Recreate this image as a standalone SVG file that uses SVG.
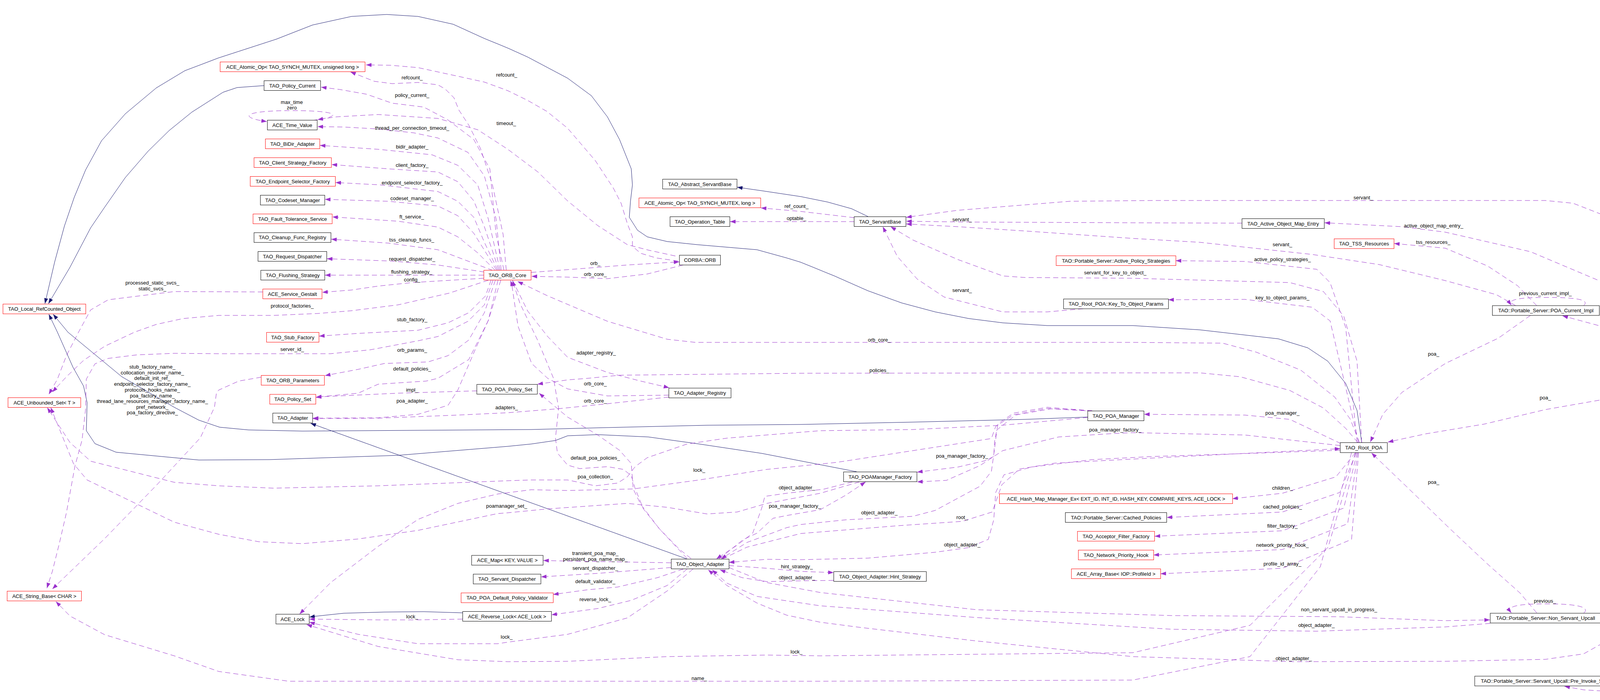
<svg xmlns="http://www.w3.org/2000/svg" width="4555" height="1791" viewBox="0 0 4555 1791">
<style>
text{font-family:"Liberation Sans",Arial,sans-serif;font-size:13px;fill:#000}
.nt{text-anchor:middle}
.lb{text-anchor:middle}
rect{fill:#fff;stroke:#000;stroke-width:1}
rect.r{stroke:#ff0000}
rect.g{fill:#bfbfbf}
.e{fill:none;stroke:#9a32cd;stroke-width:1;stroke-dasharray:13 8;marker-end:url(#ap)}
.i{fill:none;stroke:#191970;stroke-width:1;marker-end:url(#ab)}
</style>
<defs>
<marker id="ap" markerUnits="userSpaceOnUse" markerWidth="14" markerHeight="10" refX="14" refY="5" orient="auto" viewBox="0 0 14 10" preserveAspectRatio="none"><path d="M0,0 L14,5 L0,10 z" fill="#9a32cd"/></marker>
<marker id="ab" markerUnits="userSpaceOnUse" markerWidth="14" markerHeight="10" refX="14" refY="5" orient="auto" viewBox="0 0 14 10" preserveAspectRatio="none"><path d="M0,0 L14,5 L0,10 z" fill="#191970"/></marker>
</defs>
<rect x="0" y="0" width="4555" height="1791" style="fill:#fff;stroke:none"/>
<g id="edges">
<path class="i" d="M3486,1132 L3474,1050 L3445,981 L3399,924 L3348,890 L3273,867 L3072,844 L2900,833 L2681,833 L2567,826 L2480,815 L2394,798 L2308,775 L2222,744 L2136,706 L2050,671 L2014,660 L1938,639 L1785,626 L1708,618 L1657,606 L1632,589 L1611,556 L1614,515 L1619,473 L1616,432 L1606,407 L1586,357 L1555,299 L1514,245 L1453,200 L1351,146 L1300,123 L1239,98 L1160,62 L1070,42 L990,37 L900,42 L800,64 L708,100 L560,148 L473,181 L400,225 L321,291 L260,360 L219,435 L190,505 L165,578 L140,670 L115,777"/>
<path class="i" d="M676,219 L607,224 L571,236 L491,287 L433,334 L379,387 L321,454 L268,530 L232,583 L179,684 L124,777"/>
<path class="i" d="M2193,1207 L2100,1189 L1950,1160 L1790,1136 L1660,1118 L1530,1112 L1453,1115 L1422,1127 L1360,1136 L1300,1142 L1019,1165 L690,1176 L509,1177 L297,1157 L243,1135 L221,1102 L223,1030 L214,988 L187,940 L147,850 L125,804"/>
<path class="i" d="M2785,1067 L2624,1073 L2337,1080 L2050,1086 L1810,1088 L1555,1094 L1360,1099 L774,1103 L636,1100 L562,1093 L509,1075 L446,1042 L312,964 L174,850 L136,804"/>
<path class="i" d="M2222,554 L2180,534 L2119,517 L2050,503 L1950,488 L1887,479"/>
<path class="i" d="M1758,1430 L795,1083"/>
<path class="i" d="M1184,1568 L1085,1565 L983,1566 L880,1569 L805,1577 L792,1579"/>
<path class="e" d="M1296,691 L1288,600 L1260,470 L1230,380 L1200,320 L1175,282 L1162,250 L1140,228 L1121,217 L1070,211 L1004,214 L958,208 L920,193 L897,184"/>
<path class="e" d="M1736,668 L1680,660 L1640,648 L1619,630 L1619,606 L1606,572 L1590,520 L1570,481 L1524,411 L1453,328 L1400,285 L1351,257 L1300,232 L1240,210 L1172,195 L1070,173 L1000,167 L937,166"/>
<path class="e" d="M1729,655 L1660,640 L1606,626 L1530,577 L1453,514 L1377,440 L1300,382 L1223,332 L1121,303 L968,293 L861,299 L813,306"/>
<path class="e" d="M800,308 C880,298 872,283 747,283 C618,283 612,301 683,311"/>
<path class="e" d="M1290,691 L1270,600 L1254,432 L1213,357 L1147,307 L1085,274 L1004,264 L938,241 L870,229 L822,223"/>
<path class="e" d="M1283,691 L1270,560 L1240,450 L1198,390 L1121,353 L1060,340 L968,330 L880,325 L813,324"/>
<path class="e" d="M1280,691 L1250,560 L1223,473 L1172,423 L1106,396 L968,382 L819,372"/>
<path class="e" d="M1277,691 L1240,580 L1213,514 L1172,465 L1121,440 L994,432 L849,421"/>
<path class="e" d="M1274,691 L1240,620 L1213,556 L1172,515 L1121,490 L973,473 L859,467"/>
<path class="e" d="M1271,691 L1240,640 L1213,597 L1172,552 L1121,527 L994,515 L832,510"/>
<path class="e" d="M1268,692 L1223,647 L1172,606 L1121,581 L1019,566 L851,555"/>
<path class="e" d="M1262,692 L1198,668 L1121,639 L994,622 L848,612"/>
<path class="e" d="M1240,696 L1121,678 L1004,668 L837,662"/>
<path class="e" d="M1238,704 L832,704"/>
<path class="e" d="M1238,712 L1121,719 L1055,723 L968,732 L900,742 L825,748"/>
<path class="e" d="M1250,717 L1150,750 L1019,780 L900,795 L815,802 L700,807 L560,807 L469,815 L400,830 L344,850 L268,886 L214,922 L170,964 L134,1003"/>
<path class="e" d="M1257,717 L1243,757 L1200,800 L1147,826 L1070,845 L917,853 L817,860"/>
<path class="e" d="M1262,717 L1240,780 L1198,822 L1121,861 L1070,872 L948,895 L846,905 L700,905 L560,905 L446,904 L350,908 L277,917 L243,931 L221,970 L219,1048 L210,1126 L192,1192 L170,1312 L152,1390 L134,1462 L120,1505"/>
<path class="e" d="M1268,717 L1240,800 L1200,870 L1147,910 L1096,926 L984,930 L917,945 L832,961"/>
<path class="e" d="M1275,717 L1250,820 L1200,920 L1121,968 L1091,975 L968,983 L917,1006 L809,1016"/>
<path class="e" d="M1282,717 L1250,820 L1218,891 L1172,998 L1147,1037 L1070,1060 L968,1069 L801,1070"/>
<path class="e" d="M1221,1000 L1019,1006 L825,1015 L809,1017"/>
<path class="e" d="M1712,1016 L1555,1033 L1427,1046 L1300,1056 L1172,1062 L968,1070 L801,1071"/>
<path class="e" d="M1712,1011 L1555,1013 L1453,995 L1402,968 L1361,930 L1326,834 L1310,727 L1307,718"/>
<path class="e" d="M1312,717 L1351,796 L1402,861 L1453,914 L1555,953 L1640,975 L1713,992"/>
<path class="e" d="M1360,697 L1504,686 L1606,678 L1739,670"/>
<path class="e" d="M1749,678 L1657,701 L1555,713 L1453,709 L1361,707"/>
<path class="e" d="M673,747 L446,746 L277,767 L232,793 L201,850 L170,910 L147,970 L125,1009"/>
<path class="e" d="M669,965 L611,975 L560,998 L554,1006 L549,1042 L513,1120 L402,1240 L268,1378 L134,1507"/>
<path class="e" d="M2187,557 L2119,549 L2050,541 L1948,532"/>
<path class="e" d="M2187,567 L1869,567"/>
<path class="e" d="M3480,1132 L3457,1073 L3417,1016 L3330,947 L3216,901 L3130,878 L2900,876 L2050,876 L1780,876 L1708,868 L1555,822 L1402,757 L1325,720"/>
<path class="e" d="M3476,1132 L3445,1096 L3388,1044 L3302,999 L3175,964 L3072,954 L2900,954 L2050,955 L1586,960 L1504,968 L1453,972 L1376,983"/>
<path class="e" d="M3486,1132 L3474,924 L3440,809 L3388,746 L3302,723 L2900,712 L2624,710 L2567,706 L2452,664 L2337,614 L2280,580"/>
<path class="e" d="M2773,790 L2681,798 L2567,798 L2417,760 L2348,714 L2297,656 L2260,580"/>
<path class="e" d="M4409,956 L4382,874 L4327,764 L4273,690 L4191,616 L4109,552 L4027,520 L3956,513 L3700,513 L2950,513 L2739,515 L2452,538 L2320,556"/>
<path class="e" d="M3180,571 L2900,570 L2463,568 L2320,566"/>
<path class="e" d="M3880,782 L3831,754 L3700,718 L3531,677 L3359,651 L3072,620 L2900,610 L2624,591 L2452,580 L2320,573"/>
<path class="e" d="M4403,956 L4300,846 L4136,736 L3918,644 L3700,594 L3589,580 L3391,570"/>
<path class="e" d="M3934,782 L3885,731 L3809,681 L3700,635 L3569,623"/>
<path class="e" d="M4054,782 C4072,766 4030,761 3960,761 C3890,761 3858,766 3869,781"/>
<path class="e" d="M3918,807 L3836,865 L3700,930 L3589,1004 L3540,1060 L3508,1131"/>
<path class="e" d="M4380,957 L4218,873 L4100,835 L4000,808"/>
<path class="e" d="M4343,983 L4191,1007 L3956,1048 L3800,1085 L3650,1110 L3553,1131"/>
<path class="e" d="M4422,983 L4414,1085 L4403,1223 L4387,1361 L4354,1545 L4316,1655 L4273,1719 L4218,1756 L4136,1770 L4054,1765 L4005,1756"/>
<path class="e" d="M4420,983 L4409,1067 L4382,1177 L4354,1269 L4300,1407 L4245,1499 L4191,1563 L4136,1627 L4054,1673 L3956,1687 L3700,1692 L3312,1693 L2900,1680 L2500,1640 L2200,1605 L2100,1592 L2014,1574 L1938,1543 L1861,1498 L1813,1458"/>
<path class="e" d="M4054,1569 C4074,1552 4030,1545 3960,1545 C3880,1545 3856,1552 3869,1568"/>
<path class="e" d="M3934,1568 L3891,1517 L3809,1444 L3711,1352 L3606,1250 L3511,1159"/>
<path class="e" d="M1866,1452 L1960,1490 L2100,1516 L2500,1560 L3000,1575 L3428,1578 L3700,1588 L3814,1586"/>
<path class="e" d="M3815,1595 L3700,1604 L3370,1615 L3000,1610 L2500,1580 L2100,1550 L1938,1526 L1861,1492 L1823,1458"/>
<path class="e" d="M1866,1447 L1963,1454 L2050,1462 L2134,1465"/>
<path class="e" d="M2134,1485 L2050,1486 L1963,1488 L1900,1478 L1843,1458"/>
<path class="e" d="M1718,1440 L1606,1438 L1427,1435 L1391,1434"/>
<path class="e" d="M1718,1452 L1657,1457 L1530,1467 L1385,1476"/>
<path class="e" d="M1749,1456 L1683,1478 L1581,1502 L1504,1509 L1416,1521"/>
<path class="e" d="M1759,1456 L1708,1498 L1616,1536 L1530,1557 L1412,1573"/>
<path class="e" d="M1774,1456 L1708,1512 L1606,1581 L1453,1623 L1300,1643 L1274,1647 L1070,1647 L917,1623 L792,1592"/>
<path class="e" d="M1184,1584 L1070,1586 L968,1586 L792,1584"/>
<path class="e" d="M3470,1158 L3400,1400 L3200,1600 L2900,1670 L2100,1678 L1963,1676 L1708,1680 L1453,1692 L1300,1693 L1172,1688 L968,1654 L785,1598"/>
<path class="e" d="M3460,1158 L3380,1450 L3200,1680 L2900,1740 L2100,1743 L1360,1743 L739,1743 L560,1718 L446,1678 L268,1624 L179,1576 L143,1539"/>
<path class="e" d="M1769,1429 L1739,1405 L1688,1353 L1647,1302 L1626,1250 L1616,1217 L1596,1201 L1555,1194 L1484,1199 L1453,1190 L1427,1159 L1422,1121 L1430,1044 L1417,968 L1377,872 L1331,776 L1312,718"/>
<path class="e" d="M1759,1429 L1688,1353 L1640,1290 L1621,1251 L1616,1186 L1586,1152 L1530,1113 L1453,1067 L1380,1006"/>
<path class="e" d="M1841,1430 L1902,1381 L1938,1364 L1979,1326 L2014,1319 L2100,1304 L2165,1267 L2216,1233"/>
<path class="e" d="M2182,1233 L2107,1252 L2014,1262 L1958,1270 L1950,1300 L1927,1364 L1887,1395 L1834,1430"/>
<path class="e" d="M2200,1233 L2100,1262 L1963,1288 L1887,1310 L1810,1315 L1708,1298 L1606,1288 L1402,1302 L1300,1312 L1274,1314 L1070,1357 L917,1379 L774,1391 L662,1386 L560,1367 L446,1336 L223,1228 L188,1186 L130,1043"/>
<path class="e" d="M2785,1068 L2566,1088 L2337,1099 L2100,1102 L1861,1121 L1759,1136 L1657,1171 L1626,1194 L1606,1220 L1581,1236 L1524,1243 L1453,1228 L1360,1228 L1300,1230 L968,1243 L700,1249 L560,1243 L446,1234 L232,1180 L179,1132 L121,1043"/>
<path class="e" d="M2796,1051 L2681,1045 L2595,1061 L2549,1091 L2538,1122 L2337,1153 L2142,1183 L1963,1201 L1790,1228 L1621,1251 L1453,1255 L1360,1253 L1274,1264 L1172,1288 L1070,1329 L968,1398 L846,1491 L767,1571"/>
<path class="e" d="M2796,1051 L2681,1042 L2595,1057 L2555,1084 L2546,1130 L2544,1168 L2521,1179 L2452,1195 L2348,1208"/>
<path class="e" d="M2800,1052 L2690,1046 L2600,1062 L2552,1100 L2546,1149 L2538,1206 L2509,1244 L2394,1306 L2337,1321 L2165,1330 L2050,1342 L2014,1350 L1912,1388 L1846,1430"/>
<path class="e" d="M3433,1135 L3302,1073 L3187,1062 L2929,1060"/>
<path class="e" d="M3431,1140 L3187,1113 L2900,1107 L2854,1109 L2710,1118 L2567,1153 L2509,1191 L2423,1229 L2348,1233"/>
<path class="e" d="M3431,1152 L3200,1160 L2950,1168 L2796,1176 L2640,1195 L2570,1215 L2549,1260 L2544,1330 L2530,1380 L2480,1401 L2394,1413 L2222,1428 L2050,1432 L1963,1431 L1866,1439"/>
<path class="e" d="M1850,1430 L1912,1400 L2050,1365 L2300,1345 L2463,1334 L2540,1310 L2565,1240 L2610,1200 L2700,1185 L2950,1172 L3187,1160 L3431,1148"/>
<path class="e" d="M3470,1158 L3420,1220 L3283,1262 L3155,1276"/>
<path class="e" d="M3472,1158 L3430,1260 L3283,1310 L2987,1324"/>
<path class="e" d="M3474,1158 L3440,1300 L3283,1358 L2956,1372"/>
<path class="e" d="M3476,1158 L3450,1340 L3283,1406 L2953,1420"/>
<path class="e" d="M3478,1158 L3460,1380 L3283,1454 L2971,1468"/>
<path class="e" d="M3474,1132 L3445,838 L3405,723 L3371,689 L3187,669 L3010,667"/>
<path class="e" d="M3478,1132 L3405,821 L3359,786 L3187,766 L2991,767"/>
</g>
<g id="labels">
<text class="lb" x="1055" y="203">refcount_</text>
<text class="lb" x="1297" y="196">refcount_</text>
<text class="lb" x="1055" y="248">policy_current_</text>
<text class="lb" x="747" y="266">max_time</text>
<text class="lb" x="747" y="280">zero</text>
<text class="lb" x="1296" y="320">timeout_</text>
<text class="lb" x="1055" y="332">thread_per_connection_timeout_</text>
<text class="lb" x="1055" y="380">bidir_adapter_</text>
<text class="lb" x="1055" y="427">client_factory_</text>
<text class="lb" x="1055" y="472">endpoint_selector_factory_</text>
<text class="lb" x="1055" y="512">codeset_manager_</text>
<text class="lb" x="1054" y="559">ft_service_</text>
<text class="lb" x="1054" y="618">tss_cleanup_funcs_</text>
<text class="lb" x="1055" y="667">request_dispatcher_</text>
<text class="lb" x="1054" y="700">flushing_strategy_</text>
<text class="lb" x="1055" y="720">config_</text>
<text class="lb" x="748" y="787">protocol_factories_</text>
<text class="lb" x="1055" y="822">stub_factory_</text>
<text class="lb" x="748" y="898">server_id_</text>
<text class="lb" x="1055" y="900">orb_params_</text>
<text class="lb" x="1055" y="948">default_policies_</text>
<text class="lb" x="1055" y="1002">impl_</text>
<text class="lb" x="1055" y="1030">poa_adapter_</text>
<text class="lb" x="1297" y="1047">adapters_</text>
<text class="lb" x="1297" y="1299">poamanager_set_</text>
<text class="lb" x="1055" y="1582">lock_</text>
<text class="lb" x="1297" y="1634">lock_</text>
<text class="lb" x="390" y="728">processed_static_svcs_</text>
<text class="lb" x="390" y="743">static_svcs_</text>
<text class="lb" x="390" y="942.5">stub_factory_name_</text>
<text class="lb" x="390" y="957.5">collocation_resolver_name_</text>
<text class="lb" x="390" y="972">default_init_ref_</text>
<text class="lb" x="390" y="987">endpoint_selector_factory_name_</text>
<text class="lb" x="390" y="1002">protocols_hooks_name_</text>
<text class="lb" x="390" y="1016.5">poa_factory_name_</text>
<text class="lb" x="390" y="1031">thread_lane_resources_manager_factory_name_</text>
<text class="lb" x="390" y="1046">pref_network_</text>
<text class="lb" x="390" y="1060">poa_factory_directive_</text>
<text class="lb" x="1524" y="678">orb_</text>
<text class="lb" x="1524" y="706">orb_core_</text>
<text class="lb" x="1526" y="907">adapter_registry_</text>
<text class="lb" x="1524" y="986">orb_core_</text>
<text class="lb" x="1524" y="1030">orb_core_</text>
<text class="lb" x="1524" y="1176">default_poa_policies_</text>
<text class="lb" x="1524" y="1224">poa_collection_</text>
<text class="lb" x="1524" y="1420">transient_poa_map_</text>
<text class="lb" x="1524" y="1435">persistent_poa_name_map_</text>
<text class="lb" x="1524" y="1458">servant_dispatcher_</text>
<text class="lb" x="1524" y="1492">default_validator_</text>
<text class="lb" x="1524" y="1538">reverse_lock_</text>
<text class="lb" x="2039" y="532">ref_count_</text>
<text class="lb" x="2039" y="563">optable_</text>
<text class="lb" x="1790" y="1207">lock_</text>
<text class="lb" x="2040" y="1252">object_adapter_</text>
<text class="lb" x="2035" y="1299">poa_manager_factory_</text>
<text class="lb" x="2040" y="1454">hint_strategy_</text>
<text class="lb" x="2040" y="1482">object_adapter_</text>
<text class="lb" x="2039" y="1672">lock_</text>
<text class="lb" x="1790" y="1740">name_</text>
<text class="lb" x="2463" y="566">servant_</text>
<text class="lb" x="2463" y="747">servant_</text>
<text class="lb" x="2251" y="874">orb_core_</text>
<text class="lb" x="2251" y="952">policies_</text>
<text class="lb" x="2463" y="1171">poa_manager_factory_</text>
<text class="lb" x="2251" y="1316">object_adapter_</text>
<text class="lb" x="2463" y="1328">root_</text>
<text class="lb" x="2463" y="1398">object_adapter_</text>
<text class="lb" x="2855" y="702">servant_for_key_to_object_</text>
<text class="lb" x="2855" y="1104">poa_manager_factory_</text>
<text class="lb" x="3490" y="510">servant_</text>
<text class="lb" x="3670" y="582">active_object_map_entry_</text>
<text class="lb" x="3669" y="624">tss_resources_</text>
<text class="lb" x="3283" y="630">servant_</text>
<text class="lb" x="3283" y="668">active_policy_strategies_</text>
<text class="lb" x="3283" y="766">key_to_object_params_</text>
<text class="lb" x="3670" y="910">poa_</text>
<text class="lb" x="3283" y="1061">poa_manager_</text>
<text class="lb" x="3670" y="1238">poa_</text>
<text class="lb" x="3283" y="1253">children_</text>
<text class="lb" x="3283" y="1301">cached_policies_</text>
<text class="lb" x="3283" y="1350">filter_factory_</text>
<text class="lb" x="3283" y="1399">network_priority_hook_</text>
<text class="lb" x="3283" y="1447">profile_id_array_</text>
<text class="lb" x="3956" y="755">previous_current_impl_</text>
<text class="lb" x="4218" y="869">current_context_</text>
<text class="lb" x="3956" y="1022">poa_</text>
<text class="lb" x="3955" y="1542">previous_</text>
<text class="lb" x="3428" y="1564">non_servant_upcall_in_progress_</text>
<text class="lb" x="3370" y="1604">object_adapter_</text>
<text class="lb" x="3312" y="1689">object_adapter_</text>
<text class="lb" x="4218" y="1723">pre_invoke_state_</text>
</g>
<g id="n1"><rect class="r" x="7.6" y="778" width="212" height="25"/><text class="nt" x="113.6" y="795">TAO_Local_RefCounted_Object</text></g>
<g id="n2"><rect class="r" x="20.5" y="1017.5" width="186.2" height="25"/><text class="nt" x="113.6" y="1034.5">ACE_Unbounded_Set&lt; T &gt;</text></g>
<g id="n3"><rect class="r" x="18.3" y="1512.5" width="190.2" height="25"/><text class="nt" x="113.4" y="1529.5">ACE_String_Base&lt; CHAR &gt;</text></g>
<g id="n4"><rect class="r" x="563.6" y="158.5" width="370.9" height="25"/><text class="nt" x="749" y="175.5">ACE_Atomic_Op&lt; TAO_SYNCH_MUTEX, unsigned long &gt;</text></g>
<g id="n5"><rect x="676" y="206.5" width="144.7" height="25"/><text class="nt" x="748.4" y="223.5">TAO_Policy_Current</text></g>
<g id="n6"><rect x="684.5" y="307.5" width="127.5" height="25"/><text class="nt" x="748.3" y="324.5">ACE_Time_Value</text></g>
<g id="n7"><rect class="r" x="679.4" y="355.5" width="139.3" height="25"/><text class="nt" x="749" y="372.5">TAO_BiDir_Adapter</text></g>
<g id="n8"><rect class="r" x="650.3" y="403.5" width="198" height="25"/><text class="nt" x="749.3" y="420.5">TAO_Client_Strategy_Factory</text></g>
<g id="n9"><rect class="r" x="640.6" y="451.5" width="217.9" height="25"/><text class="nt" x="749.5" y="468.5">TAO_Endpoint_Selector_Factory</text></g>
<g id="n10"><rect x="666.6" y="499.5" width="164.8" height="25"/><text class="nt" x="749" y="516.5">TAO_Codeset_Manager</text></g>
<g id="n11"><rect class="r" x="647.8" y="547.5" width="202.5" height="25"/><text class="nt" x="749" y="564.5">TAO_Fault_Tolerance_Service</text></g>
<g id="n12"><rect x="650.3" y="595.3" width="196.9" height="25"/><text class="nt" x="748.8" y="612.3">TAO_Cleanup_Func_Registry</text></g>
<g id="n13"><rect x="660.5" y="643.5" width="176" height="25"/><text class="nt" x="748.5" y="660.5">TAO_Request_Dispatcher</text></g>
<g id="n14"><rect x="667.7" y="691.5" width="163.7" height="25"/><text class="nt" x="749.5" y="708.5">TAO_Flushing_Strategy</text></g>
<g id="n15"><rect class="r" x="672.8" y="739.5" width="151.5" height="25"/><text class="nt" x="748.5" y="756.5">ACE_Service_Gestalt</text></g>
<g id="n16"><rect class="r" x="682.4" y="850.5" width="134.2" height="25"/><text class="nt" x="749.5" y="867.5">TAO_Stub_Factory</text></g>
<g id="n17"><rect class="r" x="668.7" y="960.5" width="161.7" height="25"/><text class="nt" x="749.5" y="977.5">TAO_ORB_Parameters</text></g>
<g id="n18"><rect class="r" x="690.6" y="1009" width="117.9" height="25"/><text class="nt" x="749.5" y="1026">TAO_Policy_Set</text></g>
<g id="n19"><rect x="698.3" y="1057" width="102" height="25"/><text class="nt" x="749.3" y="1074">TAO_Adapter</text></g>
<g id="n20"><rect x="706.4" y="1571.5" width="85.2" height="25"/><text class="nt" x="749" y="1588.5">ACE_Lock</text></g>
<g id="n21"><rect class="r" x="1238.6" y="691.5" width="121" height="25"/><text class="nt" x="1299" y="708.5">TAO_ORB_Core</text></g>
<g id="n22"><rect x="1220.7" y="983.5" width="154.8" height="25"/><text class="nt" x="1298" y="1000.5">TAO_POA_Policy_Set</text></g>
<g id="n23"><rect x="1207.4" y="1421" width="182.9" height="25"/><text class="nt" x="1298.8" y="1438">ACE_Map&lt; KEY, VALUE &gt;</text></g>
<g id="n24"><rect x="1211.5" y="1469" width="173.2" height="25"/><text class="nt" x="1298" y="1486">TAO_Servant_Dispatcher</text></g>
<g id="n25"><rect class="r" x="1180.4" y="1517" width="235.9" height="25"/><text class="nt" x="1298.3" y="1534">TAO_POA_Default_Policy_Validator</text></g>
<g id="n26"><rect x="1184.5" y="1564.5" width="227.2" height="25"/><text class="nt" x="1298" y="1581.5">ACE_Reverse_Lock&lt; ACE_Lock &gt;</text></g>
<g id="n27"><rect x="1696.4" y="458.5" width="190.3" height="25"/><text class="nt" x="1791.5" y="475.5">TAO_Abstract_ServantBase</text></g>
<g id="n28"><rect class="r" x="1635.7" y="506.5" width="311.7" height="25"/><text class="nt" x="1791.5" y="523.5">ACE_Atomic_Op&lt; TAO_SYNCH_MUTEX, long &gt;</text></g>
<g id="n29"><rect x="1715.3" y="554.5" width="153.1" height="25"/><text class="nt" x="1791.8" y="571.5">TAO_Operation_Table</text></g>
<g id="n30"><rect x="1739.3" y="653" width="105.1" height="25"/><text class="nt" x="1791.8" y="670">CORBA::ORB</text></g>
<g id="n31"><rect x="1712.2" y="993" width="159.2" height="25"/><text class="nt" x="1791.8" y="1010">TAO_Adapter_Registry</text></g>
<g id="n32"><rect x="1718.4" y="1430.5" width="147.9" height="25"/><text class="nt" x="1792.3" y="1447.5">TAO_Object_Adapter</text></g>
<g id="n33"><rect x="2186.6" y="554.5" width="132.6" height="25"/><text class="nt" x="2252.9" y="571.5">TAO_ServantBase</text></g>
<g id="n34"><rect x="2159.6" y="1207.5" width="187.7" height="25"/><text class="nt" x="2253.4" y="1224.5">TAO_POAManager_Factory</text></g>
<g id="n35"><rect x="2134.4" y="1462.5" width="237" height="25"/><text class="nt" x="2252.9" y="1479.5">TAO_Object_Adapter::Hint_Strategy</text></g>
<g id="n36"><rect class="r" x="2703.8" y="654.5" width="306.4" height="25"/><text class="nt" x="2857" y="671.5">TAO::Portable_Server::Active_Policy_Strategies</text></g>
<g id="n37"><rect x="2722.7" y="765" width="268.6" height="25"/><text class="nt" x="2857" y="782">TAO_Root_POA::Key_To_Object_Params</text></g>
<g id="n38"><rect x="2784.7" y="1051.5" width="143.8" height="25"/><text class="nt" x="2856.6" y="1068.5">TAO_POA_Manager</text></g>
<g id="n39"><rect class="r" x="2558.6" y="1263.5" width="596.8" height="25"/><text class="nt" x="2857" y="1280.5">ACE_Hash_Map_Manager_Ex&lt; EXT_ID, INT_ID, HASH_KEY, COMPARE_KEYS, ACE_LOCK &gt;</text></g>
<g id="n40"><rect x="2727.3" y="1311.5" width="259.4" height="25"/><text class="nt" x="2857" y="1328.5">TAO::Portable_Server::Cached_Policies</text></g>
<g id="n41"><rect class="r" x="2758.3" y="1359.5" width="197.4" height="25"/><text class="nt" x="2857" y="1376.5">TAO_Acceptor_Filter_Factory</text></g>
<g id="n42"><rect class="r" x="2760.6" y="1407.5" width="192.8" height="25"/><text class="nt" x="2857" y="1424.5">TAO_Network_Priority_Hook</text></g>
<g id="n43"><rect class="r" x="2742.8" y="1455.5" width="228.4" height="25"/><text class="nt" x="2857" y="1472.5">ACE_Array_Base&lt; IOP::ProfileId &gt;</text></g>
<g id="n44"><rect x="3179.5" y="559.5" width="210.7" height="25"/><text class="nt" x="3284.9" y="576.5">TAO_Active_Object_Map_Entry</text></g>
<g id="n45"><rect class="r" x="3415.5" y="611" width="153.2" height="25"/><text class="nt" x="3492" y="628">TAO_TSS_Resources</text></g>
<g id="n46"><rect x="3431" y="1132.5" width="120.5" height="25.5"/><text class="nt" x="3491.3" y="1149.8">TAO_Root_POA</text></g>
<g id="n47"><rect x="3820.5" y="782" width="273.8" height="25"/><text class="nt" x="3957.4" y="799">TAO::Portable_Server::POA_Current_Impl</text></g>
<g id="n48"><rect x="3815" y="1569" width="283.6" height="25"/><text class="nt" x="3956.8" y="1586">TAO::Portable_Server::Non_Servant_Upcall</text></g>
<g id="n49"><rect x="3775.3" y="1730" width="364.2" height="25"/><text class="nt" x="3957.4" y="1747">TAO::Portable_Server::Servant_Upcall::Pre_Invoke_State</text></g>
<g id="n50"><rect class="g" x="4298.7" y="957" width="252" height="25"/><text class="nt" x="4424.7" y="974">TAO::Portable_Server::Servant_Upcall</text></g>
</svg>
